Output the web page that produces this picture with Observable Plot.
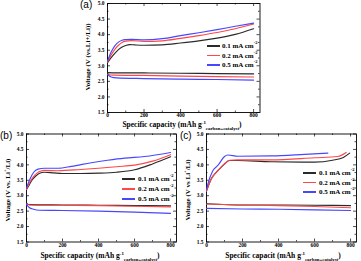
<!DOCTYPE html>
<html><head><meta charset="utf-8">
<script src="https://cdn.jsdelivr.net/npm/d3@7"></script>
<script src="https://cdn.jsdelivr.net/npm/@observablehq/plot@0.6"></script>
<style>
body{margin:0;background:#fff}
#root{position:relative;width:361px;height:261px;overflow:hidden;font-family:"Liberation Serif",serif;font-weight:bold;color:#000}
.abs{position:absolute;white-space:nowrap;line-height:1}
.ylab{transform:translate(-50%,-50%) rotate(-90deg);font-size:7px}
.xlab{transform:translate(-50%,-50%);font-size:7.5px}
.tag{font-family:"Liberation Sans",Arial,sans-serif;font-weight:normal;font-size:10px}
.leg{font-size:7px;transform:translateY(-50%)}
sup,sub{font-size:65%;line-height:0}
svg{position:absolute}
</style></head><body><div id="root"></div>
<script>
// ---------- data ----------
const rateLabels = ["0.1 mA cm", "0.2 mA cm", "0.5 mA cm"];
const rateColors = ["#2a2a2a", "#ff4747", "#4747ff"];
const panelTags = ["(a)", "(b)", "(c)"];
const yLabels = ["Voltage (V (vs.Li+/Li))", "Voltage (V vs. Li<sup>+</sup>/Li)", "Voltage (V vs Li<sup>+</sup>/Li)"];
const xLabels = ["Specific capacity (mAh g<sup>-1</sup><sub>carbon+catalyst</sub>)",
                 "Specific capacity (mAh g<sup>-1</sup><sub>carbon+catalyst</sub>)",
                 "Specific capacit (mAh g<sup>-1</sup><sub>carbon+catalyst</sub>)"];
const xMajor = [0, 200, 400, 600, 800];
const xMinor = [100, 300, 500, 700];
const yMajor = [1.5, 2.0, 2.5, 3.0, 3.5, 4.0, 4.5, 5.0];
const yMinor = [1.75, 2.25, 2.75, 3.25, 3.75, 4.25, 4.75];

// panel (a)
const aCap01C = [0, 20, 40, 60, 80, 100, 120, 150, 200, 300, 400, 500, 600, 700, 800];
const aV01C   = [3.10, 3.26, 3.40, 3.52, 3.60, 3.65, 3.68, 3.67, 3.66, 3.67, 3.73, 3.80, 3.89, 4.01, 4.19];
const aCap02C = [0, 20, 40, 60, 80, 100, 130, 200, 300, 400, 500, 600, 700, 800];
const aV02C   = [3.12, 3.35, 3.53, 3.66, 3.75, 3.79, 3.81, 3.78, 3.80, 3.88, 3.97, 4.07, 4.19, 4.34];
const aCap05C = [0, 20, 40, 60, 80, 100, 130, 200, 300, 400, 500, 600, 700, 800];
const aV05C   = [3.15, 3.44, 3.64, 3.76, 3.82, 3.84, 3.85, 3.83, 3.87, 3.97, 4.06, 4.16, 4.27, 4.37];
const aCap01D = [0, 50, 200, 400, 600, 800];
const aV01D   = [2.78, 2.77, 2.77, 2.76, 2.75, 2.74];
const aCap02D = [0, 30, 200, 400, 600, 800];
const aV02D   = [2.73, 2.70, 2.69, 2.67, 2.65, 2.64];
const aCap05D = [0, 20, 50, 200, 400, 600, 800];
const aV05D   = [2.72, 2.64, 2.61, 2.59, 2.57, 2.56, 2.54];

// panel (b)
const bCap01C = [0, 15, 30, 50, 70, 100, 150, 200, 300, 400, 500, 600, 700, 800];
const bV01C   = [3.20, 3.35, 3.50, 3.63, 3.72, 3.76, 3.74, 3.72, 3.72, 3.73, 3.76, 3.84, 4.03, 4.26];
const bCap02C = [0, 20, 40, 60, 80, 100, 175, 300, 400, 500, 600, 700, 800];
const bV02C   = [3.20, 3.45, 3.63, 3.74, 3.80, 3.82, 3.81, 3.85, 3.89, 3.94, 3.99, 4.12, 4.33];
const bCap05C = [0, 20, 40, 64, 100, 175, 250, 360, 450, 545, 656, 800];
const bV05C   = [3.25, 3.55, 3.76, 3.86, 3.89, 3.89, 3.95, 4.07, 4.15, 4.22, 4.27, 4.40];
const bCap01D = [0, 20, 200, 400, 600, 800];
const bV01D   = [2.74, 2.71, 2.70, 2.69, 2.68, 2.67];
const bCap02D = [0, 20, 200, 400, 600, 800];
const bV02D   = [2.73, 2.70, 2.69, 2.68, 2.66, 2.64];
const bCap05D = [0, 15, 40, 70, 200, 400, 600, 800];
const bV05D   = [2.72, 2.62, 2.56, 2.53, 2.52, 2.50, 2.47, 2.43];

// panel (c)
const cCap01C = [0, 26, 63, 100, 128, 174, 359, 600, 700, 760, 795];
const cV01C   = [3.15, 3.54, 3.81, 4.03, 4.14, 4.14, 4.10, 4.09, 4.15, 4.24, 4.38];
const cCap02C = [0, 26, 63, 100, 128, 174, 359, 600, 729, 776];
const cV02C   = [3.15, 3.54, 3.81, 4.03, 4.15, 4.16, 4.16, 4.23, 4.27, 4.40];
const cCap05C = [0, 7, 35, 63, 100, 118, 174, 359, 544, 674];
const cV05C   = [3.20, 3.37, 3.81, 3.98, 4.27, 4.32, 4.28, 4.29, 4.34, 4.38];
const cCap01D = [0, 200, 400, 600, 800];
const cV01D   = [2.74, 2.70, 2.70, 2.69, 2.68];
const cCap02D = [0, 200, 400, 600, 800];
const cV02D   = [2.73, 2.70, 2.68, 2.65, 2.61];
const cCap05D = [0, 200, 400, 600, 800];
const cV05D   = [2.59, 2.57, 2.56, 2.54, 2.52];

// ---------- drawing ----------
const root = document.getElementById("root");

function panel(p) {
  const W = p.width - p.ml - p.mr, H = p.height - p.mt - p.mb;
  const tk = {stroke: "black", strokeWidth: 0.7};
  const marks = [
    Plot.frame({stroke: "black", strokeWidth: 0.9}),
    Plot.tickX(xMajor, {x: d => d, insetTop: H - 3, ...tk}),
    Plot.tickX(xMinor, {x: d => d, insetTop: H - 1.5, ...tk}),
    Plot.tickX(xMajor, {x: d => d, insetBottom: H - 3, ...tk}),
    Plot.tickX(xMinor, {x: d => d, insetBottom: H - 1.5, ...tk}),
    Plot.tickY(yMajor, {y: d => d, insetRight: W - 3, ...tk}),
    Plot.tickY(yMinor, {y: d => d, insetRight: W - 1.5, ...tk}),
    Plot.tickY(yMajor, {y: d => d, insetLeft: W - 3, ...tk}),
    Plot.tickY(yMinor, {y: d => d, insetLeft: W - 1.5, ...tk})
  ];
  p.series.forEach(([caps, volts], i) => {
    const color = rateColors[i % 3];
    marks.push(Plot.lineY(volts, {x: caps, y: volts, stroke: color, strokeWidth: 1.15, curve: "monotone-x"}));
  });
  const svg = Plot.plot({
    width: p.width, height: p.height,
    marginLeft: p.ml, marginRight: p.mr, marginTop: p.mt, marginBottom: p.mb,
    style: {fontFamily: '"Liberation Serif", serif', fontSize: "5.4px", fontWeight: "bold", background: "transparent", color: "black"},
    x: {domain: [0, p.xmax], ticks: xMajor, tickSize: 0, tickPadding: 1, tickFormat: d => String(d), label: null},
    y: {domain: [1.5, 5.0], ticks: yMajor, tickSize: 0, tickPadding: 3, tickFormat: d => d.toFixed(1), label: null},
    marks
  });
  svg.style.left = p.left + "px";
  svg.style.top = p.top + "px";
  root.appendChild(svg);
}

function html(cls, x, y, content) {
  const d = document.createElement("div");
  d.className = "abs " + cls;
  d.style.left = x + "px";
  d.style.top = y + "px";
  d.innerHTML = content;
  root.appendChild(d);
  return d;
}

function legend(x0, x1, xText, ys) {
  ys.forEach((y, i) => {
    const l = document.createElement("div");
    l.className = "abs";
    l.style.cssText = `left:${x0}px;top:${y - 0.7}px;width:${x1 - x0}px;height:1.4px;background:${rateColors[i]}`;
    root.appendChild(l);
    html("leg", xText, y, rateLabels[i] + "<sup>-2</sup>");
  });
}

panel({left: 60, top: 0, width: 205, height: 130, ml: 47, mr: 5.5, mt: 3, mb: 18, xmax: 835,
  series: [[aCap01C, aV01C], [aCap02C, aV02C], [aCap05C, aV05C], [aCap01D, aV01D], [aCap02D, aV02D], [aCap05D, aV05D]]});
panel({left: 0, top: 130, width: 180, height: 131, ml: 26, mr: 4, mt: 3.5, mb: 19.5, xmax: 833,
  series: [[bCap01C, bV01C], [bCap02C, bV02C], [bCap05C, bV05C], [bCap01D, bV01D], [bCap02D, bV02D], [bCap05D, bV05D]]});
panel({left: 180, top: 130, width: 181, height: 131, ml: 26, mr: 5, mt: 3.5, mb: 19.5, xmax: 833,
  series: [[cCap01C, cV01C], [cCap02C, cV02C], [cCap05C, cV05C], [cCap01D, cV01D], [cCap02D, cV02D], [cCap05D, cV05D]]});

html("tag", 80, 0, panelTags[0]);
html("tag", 0, 131, panelTags[1]);
html("tag", 180, 131, panelTags[2]);

html("ylab", 88, 57, yLabels[0]);
html("ylab", 8, 190, yLabels[1]);
html("ylab", 188, 190, yLabels[2]);

html("xlab", 182, 124.5, xLabels[0]);
html("xlab", 100, 255.5, xLabels[1]);
html("xlab", 283, 255.5, xLabels[2]);

legend(207, 220, 222, [46, 55.5, 65]);
legend(122, 135, 138, [179, 189, 199]);
legend(303, 316, 319, [173, 182.5, 192]);
</script></body></html>
